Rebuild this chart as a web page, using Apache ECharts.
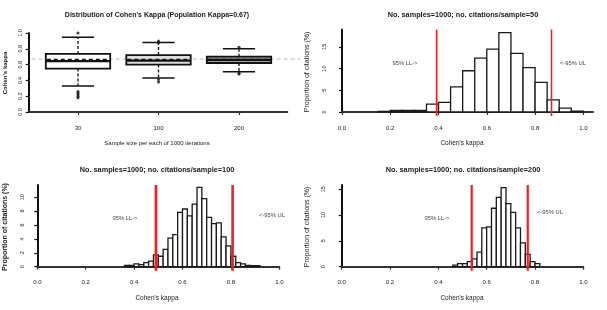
<!DOCTYPE html>
<html>
<head>
<meta charset="utf-8">
<script src="https://cdn.jsdelivr.net/npm/echarts@6/dist/echarts.min.js"></script>
<style>
  html, body { margin: 0; padding: 0; background: #fff; }
  #main { width: 607px; height: 310px; }
</style>
</head>
<body>
<div id="main"></div>
<script>
//定义数据
	//箱线图: 样本量
	var boxCategories = ['30', '100', '200'];
	//[下须, Q1, 中位数, Q3, 上须]
	var boxLow = [0.33, 0.43, 0.51];
	var boxQ1 = [0.55, 0.60, 0.62];
	var boxMedian = [0.645, 0.65, 0.66];
	var boxQ3 = [0.735, 0.72, 0.70];
	var boxHigh = [0.945, 0.88, 0.80];
	var boxMean = [0.665, 0.665, 0.665];
	//离群点 [组, 值]
	var boxOutliers = [[0, 1.0], [0, 0.26], [0, 0.24], [0, 0.22], [0, 0.20], [0, 0.18],
		[1, 0.90], [1, 0.88], [1, 0.41], [1, 0.38], [2, 0.82], [2, 0.49], [2, 0.48]];
	var populationKappa = 0.67;

	//直方图 (每组: 起点, 组距, 比例%)
	var hist50Start = 0.15, hist50Width = 0.05;
	var hist50 = [0.15, 0.35, 0.35, 0.35, 1.8, 2.2, 5.8, 9.5, 12.4, 14.5, 18.3, 13.5, 10.2, 6.8, 2.8, 0.9, 0.2];
	var hist100Start = 0.36, hist100Width = 0.02;
	var hist100 = [0.2, 0.2, 0.4, 0.3, 0.6, 0.8, 1.7, 1.5, 2.5, 4.1, 4.6, 7.8, 8.3, 7.3, 9.0, 11.4, 9.8, 7.1,
		6.2, 6.3, 4.3, 3.0, 1.5, 0.6, 0.4, 0.2, 0.15, 0.15];
	var hist200Start = 0.46, hist200Width = 0.02;
	var hist200 = [0.3, 0.6, 0.6, 1.0, 1.5, 2.8, 7.5, 7.7, 11.3, 13.4, 15.3, 12.2, 10.5, 7.5, 4.6, 2.4, 1.0, 0.6];
	//95%置信限
	var limits50 = [0.392, 0.868];
	var limits100 = [0.49, 0.807];
	var limits200 = [0.538, 0.77];

	var kappaTicks = [0, 0.2, 0.4, 0.6, 0.8, 1.0];
	var FONT = 'Liberation Sans';

	var myChart = echarts.init(document.getElementById('main'));

//坐标轴
function makeXAxis(idx, min, max, ticks, fmt, off) {
	return {
		type: 'value', gridIndex: idx, min: min, max: max, offset: off,
		splitLine: { show: false },
		axisLine: { show: true, lineStyle: { color: '#333', width: 2 } },
		axisTick: { show: true, length: 3, customValues: ticks, lineStyle: { color: '#333', width: 1.2 } },
		axisLabel: { customValues: ticks, fontSize: 6, color: '#222', fontFamily: FONT, margin: 9, formatter: fmt }
	};
}
function makeYAxis(idx, max, ticks, fmt, off) {
	return {
		type: 'value', gridIndex: idx, min: 0, max: max, offset: off,
		splitLine: { show: false },
		axisLine: { show: true, lineStyle: { color: '#111', width: 2 } },
		axisTick: { show: true, length: 3, customValues: ticks, lineStyle: { color: '#111', width: 1.2 } },
		axisLabel: { customValues: ticks, rotate: 90, fontSize: 5.5, color: '#222', fontFamily: FONT, margin: 5, formatter: fmt }
	};
}

//直方图系列
function histSeries(idx, start, width, heights) {
	var data = [];
	for (var i = 0; i < heights.length; i++) {
		data.push([start + i * width, start + (i + 1) * width, heights[i]]);
	}
	return {
		type: 'custom', xAxisIndex: idx, yAxisIndex: idx, data: data, silent: true,
		renderItem: function (params, api) {
			var p0 = api.coord([api.value(0), 0]);
			var p1 = api.coord([api.value(1), api.value(2)]);
			return {
				type: 'rect',
				shape: { x: p0[0], y: p1[1], width: p1[0] - p0[0], height: p0[1] - p1[1] },
				style: { fill: '#fff', stroke: '#1a1a1a', lineWidth: 1.3 }
			};
		}
	};
}

//红色置信限线
function limitSeries(idx, limits, w) {
	return {
		type: 'custom', xAxisIndex: idx, yAxisIndex: idx, data: limits.map(function (v) { return [v]; }), silent: true,
		renderItem: function (params, api) {
			var cs = params.coordSys;
			var p = api.coord([api.value(0), 0]);
			return {
				type: 'line',
				shape: { x1: p[0], y1: cs.y, x2: p[0], y2: cs.y + cs.height + 4 },
				style: { stroke: '#ff1a1a', lineWidth: w }
			};
		}
	};
}

var fills = ['#ffffff', '#dedede', '#a3a3a3'];
var boxData = [];
for (var i = 0; i < boxCategories.length; i++) {
	boxData.push([i + 1, boxLow[i], boxQ1[i], boxMedian[i], boxQ3[i], boxHigh[i], boxMean[i]]);
}

function text(x, y, s, size, opt) {
	opt = opt || {};
	return {
		type: 'text', x: x, y: y, rotation: opt.rot || 0, silent: true,
		style: {
			text: s, fontSize: size, fontFamily: FONT, fontWeight: opt.bold ? 'bold' : 'normal',
			fill: opt.color || '#1a1a1a', textAlign: 'center', textVerticalAlign: 'middle'
		}
	};
}

myChart.setOption({
	backgroundColor: '#fff',
	animation: false,
	grid: [
		{ left: 29.7, top: 33, width: 257.6, height: 79 },
		{ left: 342, top: 29.5, width: 251, height: 82.5 },
		{ left: 37.3, top: 185, width: 242, height: 81.7 },
		{ left: 341.7, top: 185, width: 241.6, height: 81.7 }
	],
	xAxis: [
		makeXAxis(0, 0.4, 3.6, [1, 2, 3], function (v) { return boxCategories[Math.round(v) - 1]; }, 4),
		makeXAxis(1, 0, 1.04, kappaTicks, function (v) { return v.toFixed(1); }, 4),
		makeXAxis(2, 0, 1, kappaTicks, function (v) { return v.toFixed(1); }, 3.5),
		makeXAxis(3, 0, 1, kappaTicks, function (v) { return v.toFixed(1); }, 4)
	],
	yAxis: [
		makeYAxis(0, 1, kappaTicks, function (v) { return v.toFixed(1); }, 1),
		makeYAxis(1, 19, [0, 5, 10, 15], null, 10),
		makeYAxis(2, 11.75, [0, 2, 4, 6, 8, 10], null, 7),
		makeYAxis(3, 15.8, [0, 5, 10, 15], null, 10)
	],
	series: [
		//总体kappa参考线
		{
			type: 'custom', xAxisIndex: 0, yAxisIndex: 0, data: [[populationKappa]], silent: true, z: 1,
			renderItem: function (params, api) {
				var cs = params.coordSys;
				var p = api.coord([1, api.value(0)]);
				return {
					type: 'line',
					shape: { x1: cs.x + 2, y1: p[1], x2: cs.x + cs.width + 13, y2: p[1] },
					style: { stroke: '#bbb', lineWidth: 1, lineDash: [4, 3] }
				};
			}
		},
		//箱线图
		{
			type: 'custom', xAxisIndex: 0, yAxisIndex: 0, data: boxData, silent: true, z: 2,
			renderItem: function (params, api) {
				var x = api.value(0);
				var lo = api.coord([x, api.value(1)]);
				var q1 = api.coord([x, api.value(2)]);
				var md = api.coord([x, api.value(3)]);
				var q3 = api.coord([x, api.value(4)]);
				var hi = api.coord([x, api.value(5)]);
				var mn = api.coord([x, api.value(6)]);
				var bl = api.coord([x - 0.4, 0])[0], br = api.coord([x + 0.4, 0])[0];
				var cl = api.coord([x - 0.2, 0])[0], cr = api.coord([x + 0.2, 0])[0];
				var ink = '#111';
				return {
					type: 'group',
					children: [
						{ type: 'line', shape: { x1: lo[0], y1: q1[1], x2: lo[0], y2: lo[1] }, style: { stroke: ink, lineWidth: 1.3, lineDash: [3, 2] } },
						{ type: 'line', shape: { x1: hi[0], y1: q3[1], x2: hi[0], y2: hi[1] }, style: { stroke: ink, lineWidth: 1.3, lineDash: [3, 2] } },
						{ type: 'line', shape: { x1: cl, y1: lo[1], x2: cr, y2: lo[1] }, style: { stroke: ink, lineWidth: 1.5 } },
						{ type: 'line', shape: { x1: cl, y1: hi[1], x2: cr, y2: hi[1] }, style: { stroke: ink, lineWidth: 1.5 } },
						{ type: 'rect', shape: { x: bl, y: q3[1], width: br - bl, height: q1[1] - q3[1] }, style: { fill: fills[params.dataIndex], stroke: ink, lineWidth: 1.8 } },
						{ type: 'line', shape: { x1: bl, y1: md[1], x2: br, y2: md[1] }, style: { stroke: ink, lineWidth: 2.2 } },
						{ type: 'line', shape: { x1: bl + 1, y1: mn[1], x2: br - 1, y2: mn[1] }, style: { stroke: ink, lineWidth: 1.4, lineDash: [4, 3] } }
					]
				};
			}
		},
		{
			type: 'scatter', xAxisIndex: 0, yAxisIndex: 0, silent: true, z: 3,
			data: boxOutliers.map(function (o) { return [o[0] + 1, o[1]]; }),
			symbol: 'circle', symbolSize: 3, itemStyle: { color: '#111' }
		},
		histSeries(1, hist50Start, hist50Width, hist50),
		histSeries(2, hist100Start, hist100Width, hist100),
		histSeries(3, hist200Start, hist200Width, hist200),
		limitSeries(1, limits50, 1.6),
		limitSeries(2, limits100, 2.6),
		limitSeries(3, limits200, 2.2)
	],
	graphic: [
		//标题
		text(157, 15, "Distribution of Cohen's Kappa (Population Kappa=0.67)", 7, { bold: true }),
		text(463, 15, 'No. samples=1000; no. citations/sample=50', 7.3, { bold: true }),
		text(157, 170, 'No. samples=1000; no. citations/sample=100', 7.3, { bold: true }),
		text(463, 170, 'No. samples=1000; no. citations/sample=200', 7.3, { bold: true }),
		//坐标轴名称
		text(157, 143, 'Sample size per each of 1000 iterations', 6),
		text(462, 143, "Cohen's kappa", 6.5),
		text(157, 298, "Cohen's kappa", 6.5),
		text(462, 298, "Cohen's kappa", 6.5),
		text(5, 73, "Cohen's kappa", 6, { rot: Math.PI / 2, bold: true }),
		text(307, 72, 'Proportion of citations (%)', 7, { rot: Math.PI / 2 }),
		text(5, 227, 'Proportion of citations (%)', 7, { rot: Math.PI / 2, bold: true }),
		text(307, 227, 'Proportion of citations (%)', 7, { rot: Math.PI / 2 }),
		//置信限标注
		text(405, 63, '95% LL->', 5.8, { color: '#444' }),
		text(573, 63, '<-95% UL', 5.8, { color: '#444' }),
		text(125, 218, '95% LL->', 5.8, { color: '#444' }),
		text(272, 215, '<-95% UL', 5.8, { color: '#444' }),
		text(437, 218, '95% LL->', 5.8, { color: '#444' }),
		text(550, 212, '<-95% UL', 5.8, { color: '#444' })
	]
});
</script>
</body>
</html>
